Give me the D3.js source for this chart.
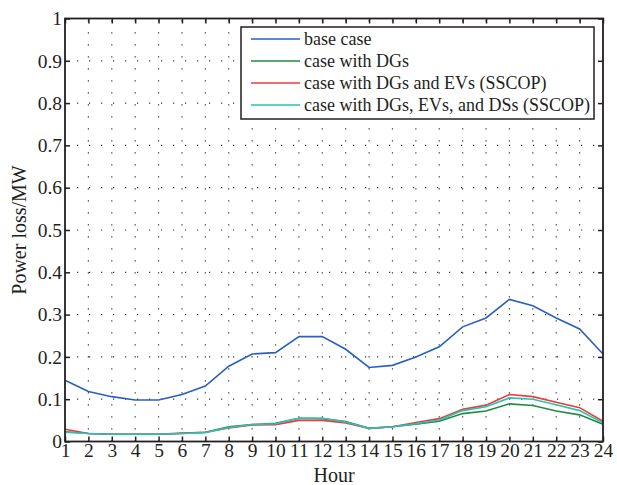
<!DOCTYPE html>
<html lang="en">
<head>
<meta charset="utf-8" />
<script src="https://d3js.org/d3.v7.min.js"></script>
<style>
  html, body { margin: 0; padding: 0; background: #fff; }
  svg text { font-family: "Liberation Serif", "DejaVu Serif", serif; fill: #231f20; }
</style>
</head>
<body>
<svg id="canvas" width="617" height="485"></svg>
<script>
// hours 1..24
var hours = d3.range(1, 25);
var yTicks = [0, 0.1, 0.2, 0.3, 0.4, 0.5, 0.6, 0.7, 0.8, 0.9, 1];

var baseCase = [0.145, 0.118, 0.106, 0.098, 0.098, 0.111, 0.131, 0.178, 0.207, 0.210, 0.248, 0.248,
                0.218, 0.175, 0.180, 0.200, 0.224, 0.271, 0.292, 0.336, 0.321, 0.292, 0.266, 0.207];
var withDGs = [0.023, 0.019, 0.017, 0.017, 0.017, 0.019, 0.022, 0.035, 0.040, 0.043, 0.055, 0.054,
               0.047, 0.031, 0.035, 0.041, 0.048, 0.066, 0.072, 0.089, 0.085, 0.072, 0.063, 0.041];
var withDGsEVs = [0.029, 0.019, 0.017, 0.017, 0.017, 0.020, 0.022, 0.032, 0.039, 0.040, 0.050, 0.050,
                  0.044, 0.031, 0.035, 0.045, 0.054, 0.076, 0.086, 0.111, 0.106, 0.093, 0.080, 0.048];
var withDGsEVsDSs = [0.022, 0.019, 0.017, 0.017, 0.017, 0.019, 0.021, 0.033, 0.040, 0.042, 0.055, 0.055,
                     0.046, 0.031, 0.035, 0.042, 0.051, 0.073, 0.082, 0.103, 0.100, 0.087, 0.073, 0.044];

var seriesNames = ["base case", "case with DGs", "case with DGs and EVs (SSCOP)", "case with DGs, EVs, and DSs (SSCOP)"];
var seriesColors = ["#2a5fbf", "#238a44", "#f03a3a", "#27c4b4"];
var seriesData = [baseCase, withDGs, withDGsEVs, withDGsEVsDSs];

(function() {
  var pLeft = 65, pRight = 603, pTop = 18.5, pBottom = 441.5;

  var svg = d3.select("#canvas");
  var x = d3.scaleLinear().domain([1, 24]).range([pLeft, pRight]);
  var y = d3.scaleLinear().domain([0, 1]).range([pBottom, pTop]);

  // dotted grid
  var grid = svg.append("g");
  grid.selectAll(".vg").data(hours.slice(1, -1)).enter().append("line")
    .attr("x1", d => x(d)).attr("x2", d => x(d))
    .attr("y1", pBottom).attr("y2", pTop)
    .attr("stroke", "#333").attr("stroke-width", 1.2).attr("stroke-dasharray", "1.2,10.8");
  grid.selectAll(".hg").data(yTicks.slice(1, -1)).enter().append("line")
    .attr("x1", pLeft).attr("x2", pRight)
    .attr("y1", d => y(d)).attr("y2", d => y(d))
    .attr("stroke", "#333").attr("stroke-width", 1.2).attr("stroke-dasharray", "1.2,10.8");

  // lines
  var line = d3.line().x((d, i) => x(hours[i])).y(d => y(d));
  seriesData.forEach(function(s, k) {
    svg.append("path").attr("d", line(s))
      .attr("fill", "none").attr("stroke", seriesColors[k]).attr("stroke-width", 1.6);
  });

  // axes (ticks inside)
  var xAxis = d3.axisBottom(x).tickValues(hours).tickSize(-5).tickPadding(2).tickFormat(d3.format("d"));
  var yAxis = d3.axisLeft(y).tickValues(yTicks).tickSize(-5).tickPadding(3)
    .tickFormat(d => d === 0 ? "0" : d === 1 ? "1" : d3.format(".1f")(d));

  var gx = svg.append("g").attr("transform", "translate(0," + pBottom + ")").call(xAxis);
  var gy = svg.append("g").attr("transform", "translate(" + pLeft + ",0)").call(yAxis);
  var gxt = svg.append("g").attr("transform", "translate(0," + pTop + ")")
    .call(d3.axisTop(x).tickValues(hours).tickSize(-5).tickFormat(""));
  var gyr = svg.append("g").attr("transform", "translate(" + pRight + ",0)")
    .call(d3.axisRight(y).tickValues(yTicks).tickSize(-5).tickFormat(""));

  [gx, gy, gxt, gyr].forEach(function(g) {
    g.select(".domain").remove();
    g.selectAll(".tick line").attr("stroke", "#231f20").attr("stroke-width", 1.5);
    g.selectAll(".tick text").style("font-size", "19.5px").attr("fill", "#231f20");
  });

  svg.append("rect").attr("x", pLeft).attr("y", pTop)
    .attr("width", pRight - pLeft).attr("height", pBottom - pTop)
    .attr("fill", "none").attr("stroke", "#231f20").attr("stroke-width", 1.8);

  // axis titles
  svg.append("text").attr("x", (pLeft + pRight) / 2).attr("y", 482)
    .attr("text-anchor", "middle").style("font-size", "20px").text("Hour");
  svg.append("text").attr("transform", "translate(26," + (pTop + pBottom) / 2 + ") rotate(-90)")
    .attr("text-anchor", "middle").style("font-size", "20px").text("Power loss/MW");

  // legend
  var lg = svg.append("g");
  lg.append("rect").attr("x", 241).attr("y", 27).attr("width", 353).attr("height", 92)
    .attr("fill", "#fff").attr("stroke", "#231f20").attr("stroke-width", 1.5);
  seriesNames.forEach(function(n, k) {
    var yy = 39 + k * 22;
    lg.append("line").attr("x1", 251).attr("x2", 300).attr("y1", yy).attr("y2", yy)
      .attr("stroke", seriesColors[k]).attr("stroke-width", 1.6);
    lg.append("text").attr("x", 304).attr("y", yy).attr("dy", "0.32em")
      .style("font-size", "18px").text(n);
  });
})();
</script>
</body>
</html>
